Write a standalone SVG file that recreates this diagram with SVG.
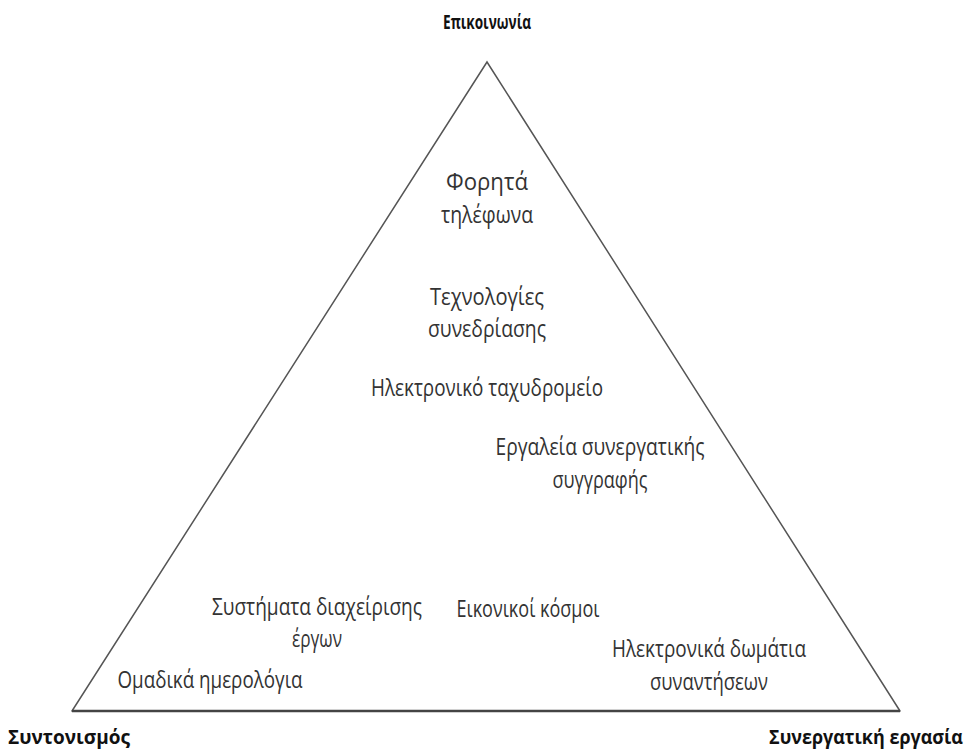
<svg xmlns="http://www.w3.org/2000/svg" width="975" height="756" viewBox="0 0 975 756">
  <style>
    .item { font-family: "Open Sans", "Noto Sans", "DejaVu Sans", sans-serif; font-size: 23px; fill: #333; text-anchor: middle; }
    .corner { font-family: "Open Sans", "Noto Sans", "DejaVu Sans", sans-serif; font-size: 20px; font-weight: bold; fill: #111; }
    .edge { fill: none; stroke: #555; stroke-width: 1.5; stroke-linecap: round; }
    .base { fill: none; stroke: #444; stroke-width: 2.5; }
  </style>
  <rect width="975" height="756" fill="#fff"/>

  <!-- triangle frame -->
  <g id="connectors">
    <polyline class="edge" points="72,711 487,62 900,711"/>
    <line class="base" x1="72" y1="711" x2="900" y2="711"/>
  </g>

  <!-- corner labels -->
  <g id="corner-communication">
    <text class="corner" x="487" y="29" text-anchor="middle" textLength="88" lengthAdjust="spacingAndGlyphs">Επικοινωνία</text>
  </g>
  <g id="corner-coordination">
    <text class="corner" x="8" y="744" textLength="122" lengthAdjust="spacingAndGlyphs">Συντονισμός</text>
  </g>
  <g id="corner-collaboration">
    <text class="corner" x="866" y="744" text-anchor="middle" font-size="18" textLength="194" lengthAdjust="spacingAndGlyphs">Συνεργατική εργασία</text>
  </g>

  <!-- tools inside the triangle -->
  <g id="mobile-phones">
    <text class="item" x="487" y="190" textLength="82" lengthAdjust="spacingAndGlyphs">Φορητά</text>
    <text class="item" x="487" y="223" textLength="92" lengthAdjust="spacingAndGlyphs">τηλέφωνα</text>
  </g>
  <g id="conferencing">
    <text class="item" x="487" y="305" textLength="114" lengthAdjust="spacingAndGlyphs">Τεχνολογίες</text>
    <text class="item" x="487" y="337" textLength="118" lengthAdjust="spacingAndGlyphs">συνεδρίασης</text>
  </g>
  <g id="email">
    <text class="item" x="487" y="396" textLength="232" lengthAdjust="spacingAndGlyphs">Ηλεκτρονικό ταχυδρομείο</text>
  </g>
  <g id="co-authoring">
    <text class="item" x="600" y="455" textLength="209" lengthAdjust="spacingAndGlyphs">Εργαλεία συνεργατικής</text>
    <text class="item" x="600" y="488" textLength="95" lengthAdjust="spacingAndGlyphs">συγγραφής</text>
  </g>
  <g id="project-management">
    <text class="item" x="317" y="615" textLength="210" lengthAdjust="spacingAndGlyphs">Συστήματα διαχείρισης</text>
    <text class="item" x="317" y="647" textLength="50" lengthAdjust="spacingAndGlyphs">έργων</text>
  </g>
  <g id="virtual-worlds">
    <text class="item" x="528" y="617" textLength="143" lengthAdjust="spacingAndGlyphs">Εικονικοί κόσμοι</text>
  </g>
  <g id="meeting-rooms">
    <text class="item" x="709" y="657" textLength="194" lengthAdjust="spacingAndGlyphs">Ηλεκτρονικά δωμάτια</text>
    <text class="item" x="709" y="690" textLength="118" lengthAdjust="spacingAndGlyphs">συναντήσεων</text>
  </g>
  <g id="group-calendars">
    <text class="item" x="210" y="688" textLength="185" lengthAdjust="spacingAndGlyphs">Ομαδικά ημερολόγια</text>
  </g>
</svg>
